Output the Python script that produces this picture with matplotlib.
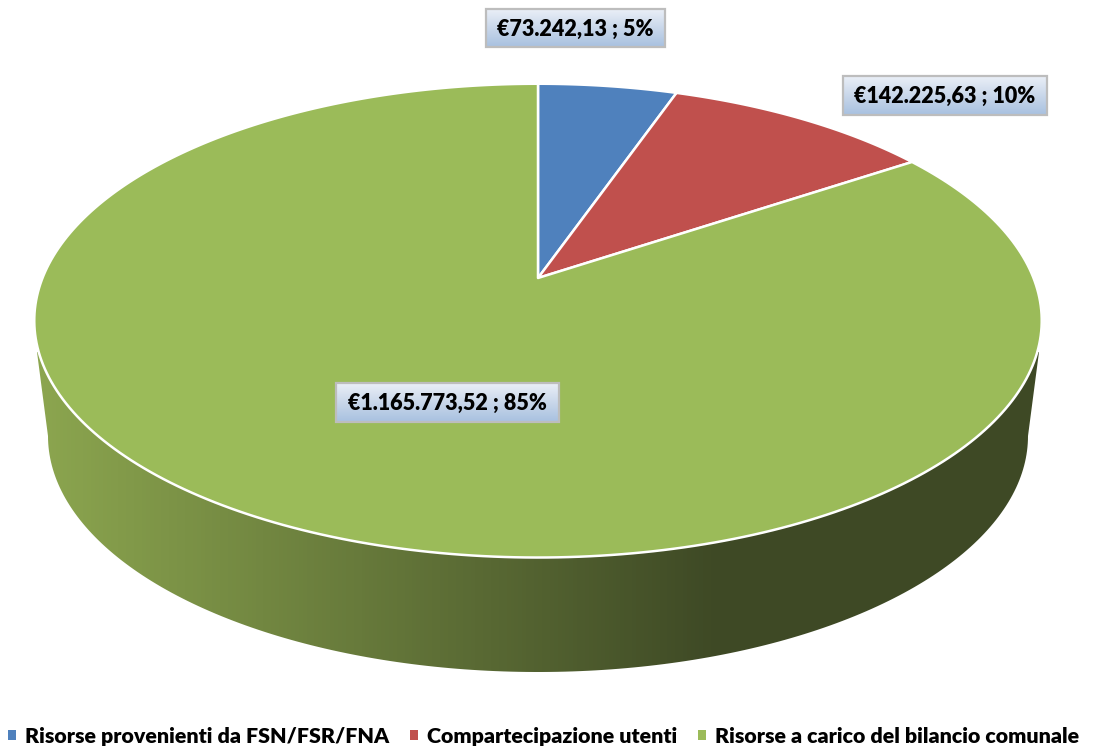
import numpy as np
import matplotlib
matplotlib.use("Agg")
import matplotlib.pyplot as plt
from matplotlib.colors import LinearSegmentedColormap
from matplotlib.patches import Polygon, Rectangle, Patch

plt.rcParams['font.family'] = ['Lato', 'DejaVu Sans']

# data
categories = ["Risorse provenienti da FSN/FSR/FNA", "Compartecipazione utenti", "Risorse a carico del bilancio comunale"]
amounts = [73242.13, 142225.63, 1165773.52]
labels = ["€73.242,13 ; 5%", "€142.225,63 ; 10%", "€1.165.773,52 ; 85%"]
colors = ["#4f81bd", "#c0504d", "#9bbb59"]

# label boxes in pixels: left, top, right, bottom
boxes = [(486, 9, 665, 47), (843, 76, 1047, 115), (336, 383, 559, 422)]

# perspective of the disc, apex of the slices at cx, cy
cx, cy = 538, 278
k = 0.18
A = 495.5
B = 229.2


def project(theta):
    # theta clockwise from 12 o'clock
    w = 1 + k * np.cos(theta)
    return cx + A * np.sin(theta) / w, cy - B * np.cos(theta) / w


fig = plt.figure(figsize=(10.98, 7.47), dpi=100)
ax = fig.add_axes([0, 0, 1, 1])
ax.axis("off")

# side wall of the pie, gradient clipped to its outline
t = np.linspace(0, np.pi, 200)
wall_x = np.r_[538 + 490 * np.cos(t), 37, 1039]
wall_y = np.r_[436 + 236 * np.sin(t), 352, 352]
wall = Polygon(np.c_[wall_x, wall_y], closed=True, fc="none", ec="none", transform=ax.transData)
ax.add_patch(wall)
wall_cmap = LinearSegmentedColormap.from_list("wall", [(0, "#8ca64f"), (0.68, "#3e4925"), (1, "#3e4925")])
img = ax.imshow(np.linspace(0, 1, 256)[None, :], extent=[36, 1040, 680, 340], aspect="auto", cmap=wall_cmap, zorder=1)
img.set_clip_path(wall)

# slices
fractions = np.array(amounts) / sum(amounts)
edges = np.r_[0, np.cumsum(fractions)] * 2 * np.pi
for i in range(len(amounts)):
    th = np.linspace(edges[i], edges[i + 1], 300)
    px, py = project(th)
    pts = np.c_[np.r_[cx, px], np.r_[cy, py]]
    ax.add_patch(Polygon(pts, closed=True, fc=colors[i], ec="white", lw=1.8, joinstyle="round", zorder=2))

# data labels
box_cmap = LinearSegmentedColormap.from_list("box", ["#eaeff7", "#c9d7ea", "#a8c1e0"])
for (x0, y0, x1, y1), lab in zip(boxes, labels):
    ax.imshow(np.linspace(0, 1, 64)[:, None], extent=[x0, x1, y1, y0], aspect="auto", cmap=box_cmap, zorder=3)
    ax.add_patch(Rectangle((x0, y0), x1 - x0, y1 - y0, fc="none", ec="#bdbdbd", lw=1.6, zorder=4))
    ax.text((x0 + x1) / 2, (y0 + y1) / 2 + 1, lab, ha="center", va="center", fontsize=15.5, fontweight="heavy", color="black", zorder=5)

ax.set_xlim(0, 1098)
ax.set_ylim(747, 0)

handles = [Patch(fc=c, ec="none") for c in colors]
fig.legend(handles, categories, ncol=3, frameon=False, loc="lower left", bbox_to_anchor=(0.0014, -0.007),
           borderaxespad=0, borderpad=0.3, handlelength=0.38, handleheight=0.38, handletextpad=0.41,
           columnspacing=0.97, prop={"size": 15.4, "weight": "heavy"})

fig.savefig("out.png", dpi=100)
